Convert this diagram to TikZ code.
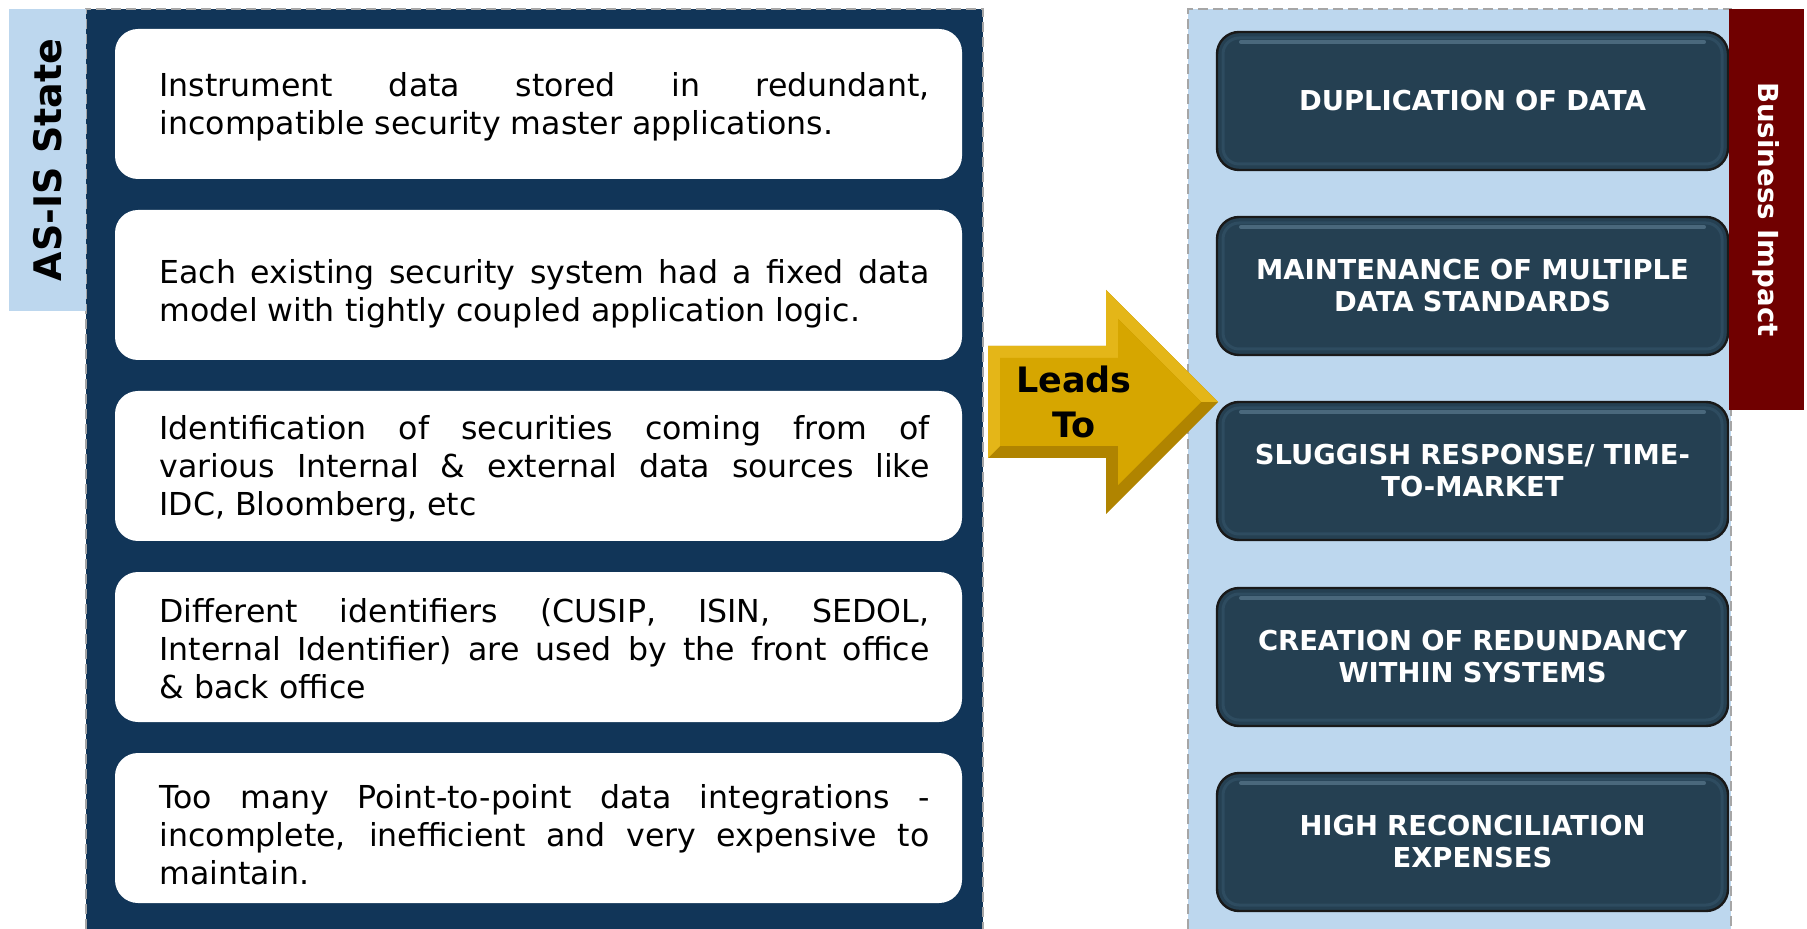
\documentclass[tikz,border=0pt]{standalone}
\usepackage{fontspec}
\setmainfont{DejaVu Sans}
\usetikzlibrary{positioning}
\hyphenpenalty=10000
\exhyphenpenalty=10000

\definecolor{navy}{RGB}{17,53,88}
\definecolor{paleblue}{RGB}{189,215,238}
\definecolor{darkred}{RGB}{112,0,0}
\definecolor{slate}{RGB}{37,64,82}
\definecolor{slaterim}{RGB}{46,76,96}
\definecolor{slatehi}{RGB}{74,104,124}
\definecolor{gold}{RGB}{214,166,0}
\definecolor{lightgold}{RGB}{228,182,24}
\definecolor{darkgold}{RGB}{176,132,0}
\definecolor{dashgray}{RGB}{166,166,166}

\tikzset{
    issue/.style={fill=white, rounded corners=11.5pt, minimum width=423.5pt,
        minimum height=75pt, text width=391pt, align=justify,
        execute at begin node={\leftskip=6pt},
        font=\fontsize{15.8}{19}\selectfont},
    impact/.style={fill=slate, draw=black!90, line width=1.2pt, rounded corners=11pt,
        minimum width=255.5pt, minimum height=69pt, text width=240pt, align=center,
        text=white, font=\bfseries\fontsize{13.7}{16}\selectfont,
        path picture={
            \draw[slaterim, line width=1.5pt, rounded corners=8pt]
                ([shift={(3pt,-3pt)}]path picture bounding box.north west) rectangle
                ([shift={(-3pt,3pt)}]path picture bounding box.south east);
            \draw[slatehi, line width=2pt, line cap=round]
                ([shift={(12pt,-5pt)}]path picture bounding box.north west) --
                ([shift={(-12pt,-5pt)}]path picture bounding box.north east);}},
    border/.style={dashgray, line width=1pt, dash pattern=on 5pt off 2.5pt}
}

\begin{document}
\begin{tikzpicture}[x=0.5pt, y=-0.5pt]
    \useasboundingbox (0,0) rectangle (1807,929);

    % left panel
    \fill[navy] (86,9) rectangle (983,929);
    \draw[border] (86,929) -- (86,9) -- (983,9) -- (983,929);
    \node[fill=paleblue, rotate=90, minimum width=151pt, minimum height=38.5pt,
        font=\bfseries\fontsize{19}{21}\selectfont] (L) at (47.5,160) {AS-IS State};

    \node[issue, text height=15.8pt, text depth=23pt] (A) at (538.5,104) {Instrument data stored in redundant,\linebreak incompatible security master applications.};
    \node[issue, text height=22pt, text depth=23pt] (B) at (538.5,285) {Each existing security system had a fixed data\linebreak model with tightly coupled application logic.};
    \node[issue, text height=16pt, text depth=42pt] (C) at (538.5,466) {Identification of securities coming from of\linebreak various Internal \& external data sources like\linebreak IDC, Bloomberg, etc};
    \node[issue, text height=17pt, text depth=42pt] (D) at (538.5,647) {Different identifiers (CUSIP, ISIN, SEDOL,\linebreak Internal Identifier) are used by the front office\linebreak \& back office};
    \node[issue, text height=22pt, text depth=42pt] (E) at (538.5,828) {Too many Point-to-point data integrations -\linebreak incomplete, inefficient and very expensive to\linebreak maintain.};

    % right panel
    \fill[paleblue] (1188,9) rectangle (1731,929);
    \draw[border] (1188,929) -- (1188,9) -- (1731,9) -- (1731,929);

    \node[impact] (F) at (1472.5,101) {DUPLICATION OF DATA};
    \node[impact] (G) at (1472.5,286) {MAINTENANCE OF MULTIPLE DATA STANDARDS};
    \node[impact] (H) at (1472.5,471) {SLUGGISH RESPONSE/ TIME-\\TO-MARKET};
    \node[impact] (I) at (1472.5,657) {CREATION OF REDUNDANCY\\WITHIN SYSTEMS};
    \node[impact] (J) at (1472.5,842) {HIGH RECONCILIATION\\EXPENSES};

    \node[fill=darkred, rotate=-90, minimum width=200.5pt, minimum height=37.5pt,
        text=white, font=\bfseries\fontsize{13.8}{16}\selectfont] (M) at (1766.5,209.5) {Business Impact};

    % arrow, bevelled
    \fill[darkgold] (988,346) -- (1106,346) -- (1106,290) -- (1218,402)
        -- (1106,514) -- (1106,458) -- (988,458) -- cycle;
    \fill[lightgold] (988,458) -- (988,346) -- (1106,346) -- (1106,290) -- (1218,402)
        -- (1201,402) -- (1118,319) -- (1118,358) -- (1000,358) -- (1000,446) -- cycle;
    \fill[gold] (1000,358) -- (1118,358) -- (1118,319) -- (1201,402)
        -- (1118,485) -- (1118,446) -- (1000,446) -- cycle;
    \node[align=center, font=\bfseries\fontsize{17.5}{22.5}\selectfont] (K) at (1074,402) {Leads\\To};
\end{tikzpicture}
\end{document}
